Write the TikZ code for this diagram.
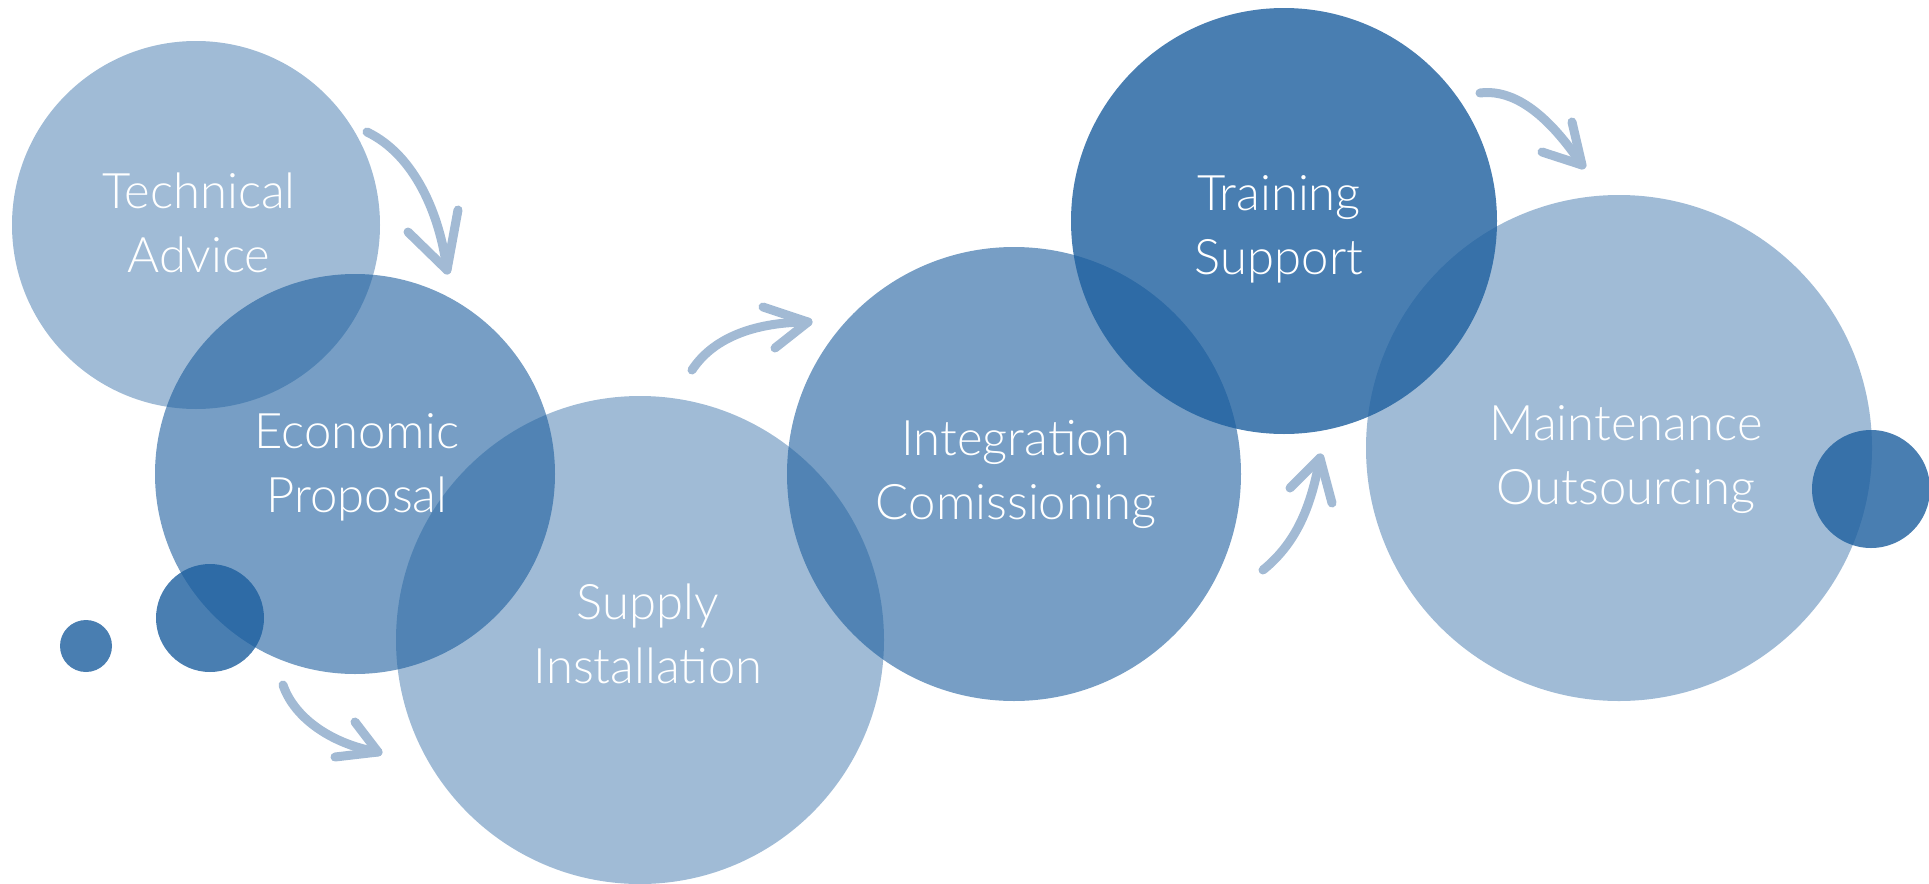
\documentclass[tikz,border=0pt]{standalone}
\usepackage{fontspec}
\setmainfont{Lato}[UprightFont={* Light}]
\definecolor{stepblue}{HTML}{1C5E9E}
\definecolor{arrowblue}{HTML}{A2BAD4}
\begin{document}
\begin{tikzpicture}[x=0.5pt, y=-0.5pt,
    bubble/.style={circle, fill=stepblue, inner sep=0pt},
    light/.style={bubble, fill opacity=0.42},
    medium/.style={bubble, fill opacity=0.6},
    dark/.style={bubble, fill opacity=0.8},
    caption/.style={text=white, align=center, font=\fontsize{24.5}{32}\selectfont},
    swoosh/.style={draw=arrowblue, line width=4.5pt, line cap=round, line join=round}]
    \useasboundingbox (0,0) rectangle (1929,884);

    \node[light, minimum size=184pt] (tech) at (196,225) {};
    \node[medium, minimum size=200pt] (econ) at (355,474) {};
    \node[light, minimum size=244pt] (supply) at (640,640) {};
    \node[medium, minimum size=227pt] (integ) at (1014,474) {};
    \node[dark, minimum size=213pt] (train) at (1284,221) {};
    \node[light, minimum size=253pt] (maint) at (1619,448) {};
    \node[dark, minimum size=59pt] (dotr) at (1871,489) {};
    \node[dark, minimum size=54pt] (dotl) at (210,618) {};
    \node[dark, minimum size=26pt] (dott) at (86,646) {};

    \node[caption] (techtxt) at (199,223) {Technical\\Advice};
    \node[caption] (econtxt) at (357,467) {Economic\\Proposal};
    \node[caption] (supplytxt) at (648,634) {Supply\\Installation};
    \node[caption] (integtxt) at (1016,474) {Integration\\Comissioning};
    \node[caption] (traintxt) at (1279,229) {Training\\Support};
    \node[caption] (mainttxt) at (1626,460) {Maintenance\\Outsourcing};

    \coordinate (a1s) at (367,132);
    \coordinate (a1t) at (447,270);
    \coordinate (a2s) at (283,685);
    \coordinate (a2t) at (378,752);
    \coordinate (a3s) at (692,370);
    \coordinate (a3t) at (808,322);
    \coordinate (a4s) at (1263,570);
    \coordinate (a4t) at (1320,458);
    \coordinate (a5s) at (1480,93);
    \coordinate (a5t) at (1582,165);

    \draw[swoosh] (a1s) .. controls (415,155) and (440,215) .. (a1t);
    \draw[swoosh] (458,210) -- (a1t) -- (408,232);
    \draw[swoosh] (a2s) .. controls (295,720) and (335,745) .. (a2t);
    \draw[swoosh] (355,722) -- (a2t) -- (335,757);
    \draw[swoosh] (a3s) .. controls (715,335) and (760,322) .. (a3t);
    \draw[swoosh] (763,307) -- (a3t) -- (775,348);
    \draw[swoosh] (a4s) .. controls (1300,540) and (1312,500) .. (a4t);
    \draw[swoosh] (1290,488) -- (a4t) -- (1332,503);
    \draw[swoosh] (a5s) .. controls (1520,88) and (1555,125) .. (a5t);
    \draw[swoosh] (1572,122) -- (a5t) -- (1542,152);
\end{tikzpicture}
\end{document}
